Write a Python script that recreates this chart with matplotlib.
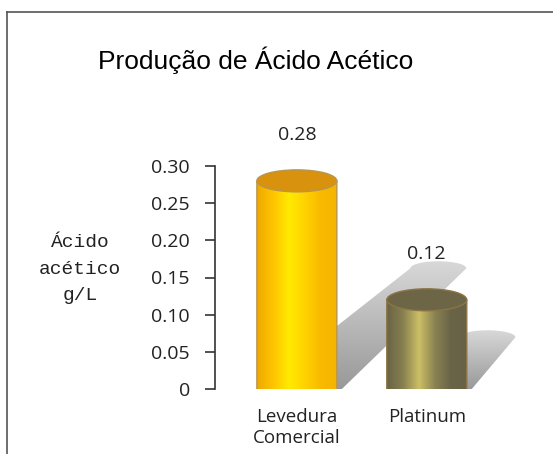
import numpy as np
import matplotlib.pyplot as plt
from matplotlib.path import Path
from matplotlib.patches import PathPatch, Ellipse
from matplotlib.lines import Line2D
from matplotlib.colors import LinearSegmentedColormap

categories = ['Levedura\nComercial', 'Platinum']
values = [0.28, 0.12]
value_labels = ['0.28', '0.12']
yticks = [0, 0.05, 0.10, 0.15, 0.20, 0.25, 0.30]
ytick_labels = ['0', '0.05', '0.10', '0.15', '0.20', '0.25', '0.30']

# body gradients (left -> right) and top colours
body_colors = [
    ['#EFA900', '#FFC400', '#FFEA00', '#FFD200', '#F9BA00', '#F6B400'],
    ['#6A6446', '#878050', '#CDBF66', '#8A8252', '#6A6448', '#676245'],
]
top_colors = ['#D8920E', '#6C6647']
edge_colors = ['#B8964A', '#8C7446']

W, H = 553, 454
fig = plt.figure(figsize=(W / 100, H / 100), dpi=100)

# axes box in pixels
ax_l, ax_r, ax_b, ax_t = 215, 545, 389, 130
ax = fig.add_axes([ax_l / W, (H - ax_b) / H, (ax_r - ax_l) / W, (ax_b - ax_t) / H])
x = np.arange(len(values))
xmin, xmax = -0.63, 1.91
ymax = 0.30 * (ax_b - ax_t) / 223.0
ax.set_xlim(xmin, xmax)
ax.set_ylim(0, ymax)
kx = (ax_r - ax_l) / (xmax - xmin)   # px per x unit
ky = (ax_b - ax_t) / ymax            # px per y unit

w = 80 / kx
ry = 11 / ky

shadow_cmap = LinearSegmentedColormap.from_list('sh', ['#d8d8d8', '#999999'])

# shadows
for c, v in zip(x, values):
    hp = v * ky
    dx, dy = 0.68 * hp / kx, 0.58 * hp / ky
    tx, ty = c + dx, dy
    half = 28 / kx
    capr = 7 / ky
    t = np.linspace(np.pi, 0, 20)
    cap = [(tx + half * np.cos(a), ty + capr * np.sin(a)) for a in t]
    verts = [(c - 40 / kx, 0)] + cap + [(c + 45 / kx, 0), (c - 40 / kx, 0)]
    patch = PathPatch(Path(verts), facecolor='none', edgecolor='none', zorder=1)
    ax.add_patch(patch)
    grad = np.linspace(0, 1, 100).reshape(-1, 1)
    im = ax.imshow(grad, cmap=shadow_cmap, aspect='auto', zorder=1,
                   extent=(c - 40 / kx, tx + half, 0, ty + capr), origin='upper')
    im.set_clip_path(patch)

# cylinders
for i, (c, v) in enumerate(zip(x, values)):
    t = np.linspace(0, -np.pi, 40)
    arc = [(c + w / 2 * np.cos(a), ry * np.sin(a)) for a in t]
    verts = [(c - w / 2, v), (c + w / 2, v)] + arc + [(c - w / 2, v)]
    body = PathPatch(Path(verts), facecolor='none', edgecolor=edge_colors[i],
                     lw=1.0, zorder=4)
    ax.add_patch(body)
    cmap = LinearSegmentedColormap.from_list('b%d' % i, body_colors[i])
    grad = np.linspace(0, 1, 200).reshape(1, -1)
    im = ax.imshow(grad, cmap=cmap, aspect='auto', zorder=3,
                   extent=(c - w / 2, c + w / 2, -ry, v))
    im.set_clip_path(body)
    ax.add_patch(Ellipse((c, v), w, 2 * ry, facecolor=top_colors[i],
                         edgecolor=edge_colors[i], lw=1.0, zorder=5))
    ax.annotate(value_labels[i], xy=(c, v), xytext=(0, 33),
                textcoords='offset points', ha='center', va='center',
                fontsize=14, family='Open Sans', color='#222222')

ax.set_xlim(xmin, xmax)
ax.set_ylim(0, ymax)

for s in ['top', 'right', 'bottom']:
    ax.spines[s].set_visible(False)
ax.spines['left'].set_bounds(0, 0.30)
ax.spines['left'].set_color('#333333')
ax.spines['left'].set_linewidth(1.2)
ax.set_yticks(yticks)
ax.set_yticklabels(ytick_labels, family='Open Sans', fontsize=14, color='#222222')
ax.tick_params(axis='y', length=7, width=1.2, color='#333333', pad=11)
ax.set_xticks(x)
ax.set_xticklabels(categories, family='Open Sans', fontsize=13.5, color='#222222',
                   linespacing=1.15)
ax.tick_params(axis='x', length=0, pad=14)
ax.patch.set_visible(False)

fig.text(80 / W, 1 - 269 / H, 'Ácido\nacético\ng/L', ha='center', va='center',
         family='Liberation Mono', fontsize=14, linespacing=1.7, color='#222222')
fig.text(256 / W, 1 - 60 / H, 'Produção de Ácido Acético', ha='center',
         va='center', family='Liberation Sans', fontsize=19, color='black')

# outer border (cropped at right and bottom)
fig.add_artist(Line2D([7 / W, 7 / W], [0, 1 - 12 / H], color='#555555', lw=1.2))
fig.add_artist(Line2D([7 / W, 1], [1 - 12 / H, 1 - 12 / H], color='#555555', lw=1.2))

fig.savefig('out.png', dpi=100)
